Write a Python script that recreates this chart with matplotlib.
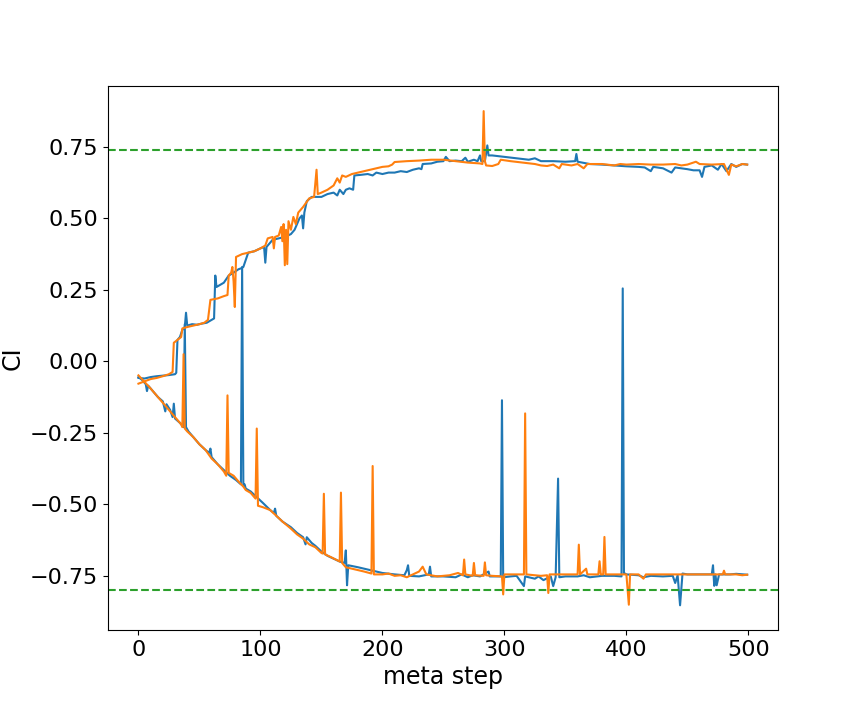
import matplotlib
matplotlib.use('Agg')
import matplotlib.pyplot as plt

# upper branch, blue
blue_up_step = [0, 5, 10, 15, 20, 25, 30, 31, 32, 34, 36, 38, 39, 40, 44, 48, 52, 56, 60, 62, 63, 64, 66,
                70, 74, 78, 82, 84, 86, 90, 95, 100, 103, 104, 105, 110, 115, 120, 125, 128, 132, 134, 135,
                136, 138, 142, 146, 150, 155, 160, 163, 165, 168, 170, 173, 176, 177, 182, 188, 192, 195,
                200, 205, 210, 215, 220, 225, 230, 232, 233, 240, 245, 250, 252, 255, 260, 265, 268, 270,
                275, 278, 280, 281, 284, 286, 287, 290, 300, 310, 320, 325, 330, 340, 350, 358, 359, 360,
                370, 380, 390, 400, 410, 415, 420, 422, 430, 437, 440, 450, 455, 460, 462, 464, 470, 475,
                478, 482, 486, 490, 495, 499]
blue_up_ci = [-0.058, -0.060, -0.055, -0.052, -0.050, -0.048, -0.045, -0.040, 0.075, 0.085, 0.110, 0.120,
              0.170, 0.125, 0.130, 0.128, 0.132, 0.135, 0.145, 0.150, 0.300, 0.260, 0.265, 0.275, 0.300,
              0.310, 0.322, 0.325, 0.330, 0.380, 0.385, 0.395, 0.400, 0.345, 0.400, 0.425, 0.430, 0.435,
              0.445, 0.460, 0.500, 0.510, 0.465, 0.520, 0.560, 0.575, 0.575, 0.575, 0.585, 0.590, 0.580,
              0.600, 0.585, 0.600, 0.605, 0.600, 0.650, 0.652, 0.655, 0.650, 0.660, 0.655, 0.660, 0.660,
              0.665, 0.662, 0.670, 0.675, 0.672, 0.690, 0.692, 0.698, 0.700, 0.715, 0.700, 0.702, 0.700,
              0.712, 0.698, 0.705, 0.700, 0.720, 0.700, 0.700, 0.755, 0.720, 0.720, 0.715, 0.710, 0.705,
              0.710, 0.700, 0.700, 0.698, 0.700, 0.725, 0.698, 0.690, 0.688, 0.685, 0.682, 0.680, 0.678,
              0.665, 0.680, 0.675, 0.660, 0.678, 0.672, 0.668, 0.668, 0.645, 0.680, 0.685, 0.670, 0.690,
              0.665, 0.690, 0.680, 0.690, 0.688]

# lower branch, blue
blue_lo_step = [0, 3, 6, 7, 8, 12, 16, 20, 22, 23, 26, 28, 29, 30, 34, 37, 38, 39, 41, 45, 50, 55, 58, 59,
                60, 65, 70, 75, 80, 84, 85, 86, 87, 88, 92, 97, 102, 108, 111, 112, 113, 118, 125, 130, 135,
                137, 138, 142, 145, 150, 155, 160, 165, 169, 170, 171, 172, 180, 190, 200, 210, 218, 220,
                221, 222, 230, 238, 239, 240, 250, 260, 265, 270, 274, 280, 287, 288, 297, 298, 299, 305,
                310, 316, 317, 320, 325, 328, 332, 338, 340, 342, 344, 345, 350, 360, 365, 370, 380, 390,
                396, 397, 398, 400, 410, 414, 420, 430, 438, 440, 442, 444, 446, 450, 460, 470, 471, 472,
                473, 474, 476, 485, 490, 499]
blue_lo_ci = [-0.055, -0.065, -0.080, -0.104, -0.085, -0.105, -0.125, -0.140, -0.175, -0.150, -0.170,
              -0.195, -0.148, -0.200, -0.215, -0.230, 0.130, -0.230, -0.245, -0.265, -0.290, -0.310,
              -0.320, -0.305, -0.335, -0.360, -0.380, -0.400, -0.415, -0.430, 0.330, -0.435, -0.430,
              -0.445, -0.455, -0.475, -0.495, -0.520, -0.530, -0.515, -0.540, -0.560, -0.580, -0.600,
              -0.615, -0.640, -0.615, -0.635, -0.645, -0.665, -0.680, -0.690, -0.700, -0.705, -0.661,
              -0.783, -0.713, -0.720, -0.730, -0.740, -0.745, -0.748, -0.730, -0.713, -0.750, -0.752,
              -0.745, -0.718, -0.752, -0.752, -0.755, -0.745, -0.755, -0.748, -0.752, -0.735, -0.752,
              -0.752, -0.136, -0.755, -0.752, -0.750, -0.786, -0.752, -0.755, -0.760, -0.752, -0.765,
              -0.752, -0.786, -0.755, -0.410, -0.755, -0.752, -0.752, -0.748, -0.755, -0.750, -0.750,
              -0.752, 0.255, -0.740, -0.745, -0.748, -0.755, -0.750, -0.752, -0.750, -0.775, -0.748,
              -0.853, -0.742, -0.745, -0.745, -0.745, -0.713, -0.785, -0.745, -0.783, -0.745, -0.745,
              -0.743, -0.746]

# upper branch, orange
orange_up_step = [0, 5, 10, 15, 20, 25, 28, 29, 32, 35, 36, 40, 45, 50, 54, 57, 59, 65, 70, 73, 74, 76, 77,
                  78, 79, 80, 85, 90, 95, 100, 104, 106, 110, 111, 112, 115, 117, 118, 119, 120, 121, 122,
                  123, 125, 127, 129, 131, 133, 135, 140, 144, 146, 147, 150, 155, 160, 163, 165, 167, 170,
                  175, 180, 185, 190, 195, 200, 205, 208, 210, 220, 230, 240, 250, 260, 270, 280, 282, 283,
                  284, 285, 290, 295, 297, 305, 315, 325, 330, 335, 340, 345, 347, 355, 360, 365, 368, 380,
                  390, 395, 400, 410, 420, 430, 440, 445, 450, 457, 460, 470, 480, 484, 486, 490, 495, 499]
orange_up_ci = [-0.078, -0.070, -0.062, -0.058, -0.052, -0.045, -0.037, 0.065, 0.075, 0.085, 0.115, 0.120,
                0.125, 0.130, 0.135, 0.145, 0.215, 0.220, 0.228, 0.232, 0.300, 0.310, 0.330, 0.280, 0.190,
                0.365, 0.375, 0.380, 0.385, 0.395, 0.405, 0.430, 0.435, 0.395, 0.435, 0.440, 0.470, 0.420,
                0.480, 0.336, 0.460, 0.340, 0.490, 0.460, 0.505, 0.480, 0.520, 0.530, 0.540, 0.570, 0.575,
                0.670, 0.585, 0.590, 0.600, 0.615, 0.640, 0.625, 0.650, 0.645, 0.655, 0.660, 0.665, 0.670,
                0.675, 0.680, 0.682, 0.688, 0.697, 0.700, 0.702, 0.705, 0.705, 0.700, 0.695, 0.692, 0.690,
                0.875, 0.700, 0.685, 0.683, 0.690, 0.705, 0.700, 0.695, 0.690, 0.685, 0.683, 0.688, 0.675,
                0.690, 0.685, 0.690, 0.675, 0.690, 0.690, 0.685, 0.690, 0.688, 0.690, 0.688, 0.688, 0.690,
                0.685, 0.688, 0.698, 0.690, 0.688, 0.690, 0.652, 0.688, 0.682, 0.690, 0.688]

# lower branch, orange
orange_lo_step = [0, 5, 10, 15, 20, 25, 30, 35, 36, 37, 38, 40, 45, 50, 55, 60, 65, 70, 72, 73, 74, 78, 82,
                  86, 88, 92, 96, 97, 98, 102, 108, 113, 118, 125, 130, 135, 140, 145, 150, 151, 152, 153,
                  158, 165, 166, 167, 170, 175, 180, 185, 191, 192, 193, 200, 205, 210, 215, 220, 225, 230,
                  233, 236, 245, 255, 262, 266, 267, 268, 274, 275, 276, 283, 284, 285, 290, 298, 299, 300,
                  310, 316, 317, 318, 325, 330, 335, 336, 337, 345, 355, 360, 361, 362, 367, 368, 377, 378,
                  379, 381, 382, 383, 395, 400, 402, 403, 410, 414, 416, 430, 440, 450, 460, 470, 479, 480,
                  481, 490, 495, 499]
orange_lo_ci = [-0.049, -0.072, -0.095, -0.120, -0.145, -0.170, -0.195, -0.220, -0.230, 0.025, -0.235,
                -0.245, -0.265, -0.290, -0.310, -0.340, -0.360, -0.385, -0.400, -0.119, -0.390, -0.400,
                -0.420, -0.438, -0.450, -0.460, -0.480, -0.235, -0.505, -0.510, -0.520, -0.540, -0.560,
                -0.585, -0.605, -0.620, -0.640, -0.650, -0.670, -0.672, -0.463, -0.675, -0.685, -0.700,
                -0.459, -0.705, -0.720, -0.725, -0.730, -0.735, -0.742, -0.366, -0.745, -0.745, -0.742,
                -0.750, -0.748, -0.755, -0.745, -0.735, -0.718, -0.745, -0.752, -0.748, -0.740, -0.748,
                -0.693, -0.745, -0.750, -0.705, -0.748, -0.750, -0.703, -0.748, -0.750, -0.752, -0.815,
                -0.745, -0.745, -0.745, -0.182, -0.745, -0.748, -0.750, -0.748, -0.810, -0.745, -0.745,
                -0.745, -0.745, -0.641, -0.745, -0.725, -0.745, -0.745, -0.699, -0.745, -0.745, -0.614,
                -0.745, -0.745, -0.745, -0.851, -0.745, -0.745, -0.760, -0.745, -0.745, -0.745, -0.745,
                -0.745, -0.745, -0.745, -0.732, -0.745, -0.745, -0.748, -0.746]

upper_ref = 0.74
lower_ref = -0.80

fig, ax = plt.subplots(figsize=(8.64, 7.2), dpi=100)
fig.subplots_adjust(left=0.125, right=0.9, top=0.88, bottom=0.125)

ax.plot(blue_up_step, blue_up_ci, color='C0')
ax.plot(blue_lo_step, blue_lo_ci, color='C0')
ax.plot(orange_up_step, orange_up_ci, color='C1')
ax.plot(orange_lo_step, orange_lo_ci, color='C1')
ax.axhline(upper_ref, color='C2', linestyle='--')
ax.axhline(lower_ref, color='C2', linestyle='--')

ax.set_xlabel('meta step', fontsize=17)
ax.set_ylabel('CI', fontsize=17)
ax.tick_params(labelsize=16)
plt.savefig('out.png', dpi=100)
